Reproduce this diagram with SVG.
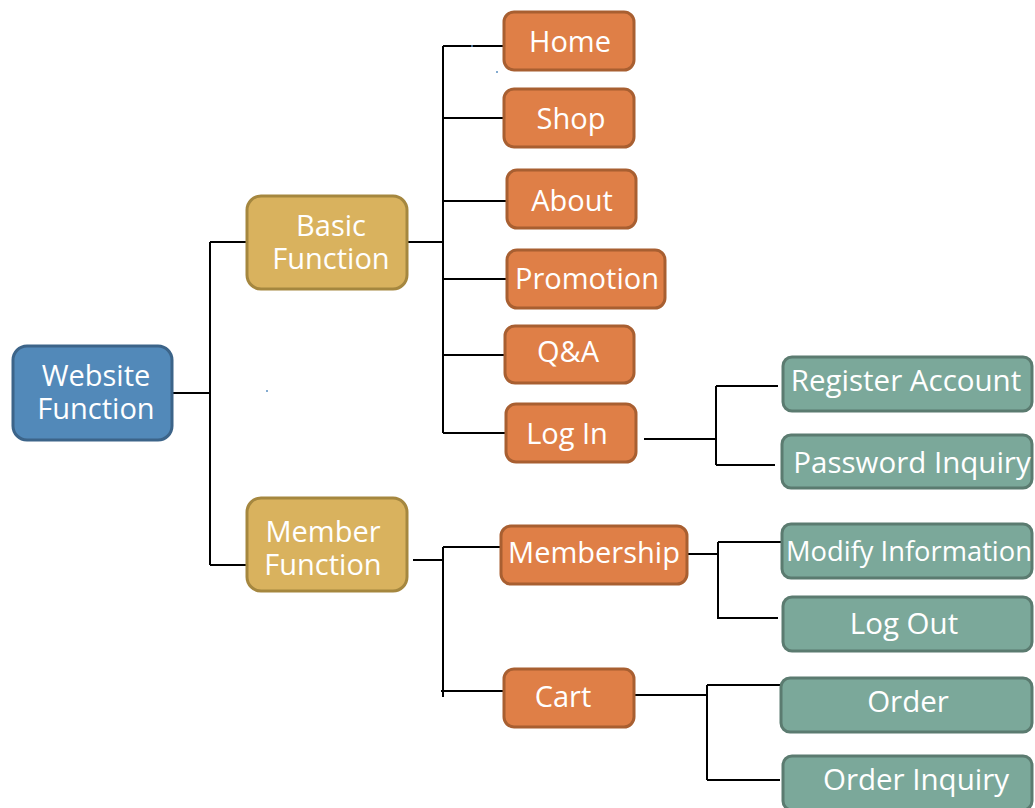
<svg xmlns="http://www.w3.org/2000/svg" width="1035" height="808" viewBox="0 0 1035 808">
  <style>
    .box { stroke-width: 3; }
    .root { fill: #5289b9; stroke: #3c6489; }
    .l1 { fill: #d9b25e; stroke: #a5873f; }
    .l2 { fill: #df7f47; stroke: #a85f31; }
    .l3 { fill: #7ba89a; stroke: #5b7b70; }
    text { font-family: "Open Sans", "Noto Sans", sans-serif; fill: #ffffff; text-anchor: middle; font-size: 29px; }
    .sm { font-size: 29.5px; }
    .wire { fill: none; stroke: #000000; stroke-width: 2; }
  </style>
  <rect width="1035" height="808" fill="#ffffff"/>

  <!-- connectors -->
  <g id="connectors">
    <path class="wire" d="M173 393 H210 M210 242 V565 M210 242 H246 M210 565 H246"/>
    <path class="wire" d="M408 242 H443 M443 46 V433 M443 46 H503 M443 118 H503 M443 201 H506 M443 279 H506 M443 355 H504 M443 433 H505"/>
    <path class="wire" d="M644 439 H716 M716 386 V465 M716 386 H778 M716 465 H775"/>
    <path class="wire" d="M413 560 H443 M443 547 V697 M443 547 H505 M441 691 H503"/>
    <path class="wire" d="M688 554 H719 M718 542 V618 M718 542 H781 M717 618 H778"/>
    <path class="wire" d="M635 695 H707 M707 685 V780 M707 685 H780 M707 780 H780"/>
  </g>

  <!-- stray specks -->
  <g fill="#5b8fc0">
    <circle cx="472" cy="46" r="1"/>
    <circle cx="497" cy="72" r="1"/>
    <circle cx="267" cy="391" r="1"/>
  </g>

  <g id="website-function">
    <rect class="box root" x="13" y="346" width="159" height="94" rx="14"/>
    <text x="96" y="386">Website</text>
    <text x="96" y="419">Function</text>
  </g>

  <g id="basic-function">
    <rect class="box l1" x="247" y="196" width="160" height="93" rx="14"/>
    <text x="331" y="236">Basic</text>
    <text x="331" y="269">Function</text>
  </g>

  <g id="member-function">
    <rect class="box l1" x="247" y="498" width="160" height="93" rx="14"/>
    <text x="323" y="542">Member</text>
    <text x="323" y="575">Function</text>
  </g>

  <g id="home">
    <rect class="box l2" x="504" y="12" width="130" height="58" rx="10"/>
    <text x="570" y="52">Home</text>
  </g>
  <g id="shop">
    <rect class="box l2" x="504" y="89" width="130" height="58" rx="10"/>
    <text x="571" y="129">Shop</text>
  </g>
  <g id="about">
    <rect class="box l2" x="507" y="170" width="129" height="58" rx="10"/>
    <text x="572" y="211">About</text>
  </g>
  <g id="promotion">
    <rect class="box l2" x="507" y="250" width="158" height="58" rx="10"/>
    <text x="587" y="289">Promotion</text>
  </g>
  <g id="qa">
    <rect class="box l2" x="505" y="326" width="129" height="57" rx="10"/>
    <text x="568" y="362">Q&amp;A</text>
  </g>
  <g id="log-in">
    <rect class="box l2" x="506" y="404" width="130" height="58" rx="10"/>
    <text x="567" y="444">Log In</text>
  </g>
  <g id="membership">
    <rect class="box l2" x="501" y="526" width="186" height="58" rx="10"/>
    <text x="594" y="563">Membership</text>
  </g>
  <g id="cart">
    <rect class="box l2" x="504" y="669" width="130" height="58" rx="10"/>
    <text x="563" y="707">Cart</text>
  </g>

  <g id="register-account">
    <rect class="box l3" x="783" y="357" width="249" height="54" rx="9"/>
    <text class="sm" x="906" y="391">Register Account</text>
  </g>
  <g id="password-inquiry">
    <rect class="box l3" x="782" y="435" width="250" height="53" rx="9"/>
    <text class="sm" x="912" y="473">Password Inquiry</text>
  </g>
  <g id="modify-information">
    <rect class="box l3" x="782" y="524" width="250" height="54" rx="9"/>
    <text x="909" y="561" style="font-size:27.3px">Modify Information</text>
  </g>
  <g id="log-out">
    <rect class="box l3" x="783" y="597" width="249" height="54" rx="9"/>
    <text class="sm" x="904" y="634">Log Out</text>
  </g>
  <g id="order">
    <rect class="box l3" x="781" y="678" width="251" height="54" rx="9"/>
    <text class="sm" x="908" y="712">Order</text>
  </g>
  <g id="order-inquiry">
    <rect class="box l3" x="783" y="756" width="249" height="54" rx="9"/>
    <text class="sm" x="916" y="790">Order Inquiry</text>
  </g>
</svg>
